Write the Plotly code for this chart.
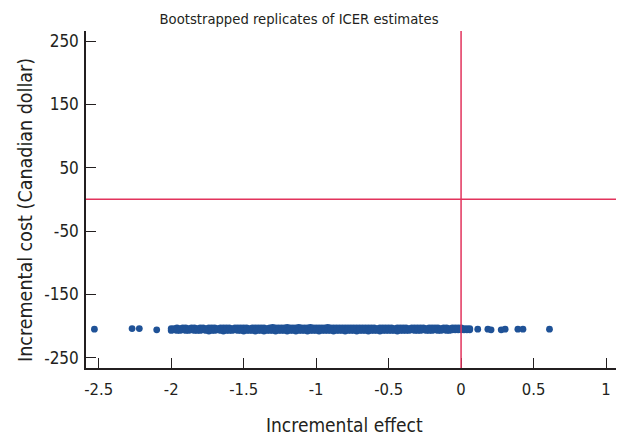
import plotly.graph_objects as go

# Bootstrapped replicates (incremental effect, incremental cost)
effect_outliers = [-2.53, -2.27, -2.22, -2.10, 0.115, 0.185, 0.207, 0.277, 0.304, 0.392, 0.427, 0.61]
cost_outliers = [-205, -204, -204, -206, -205, -205, -206, -206, -205, -205, -205, -205]

effect_band = [
    -2.00, -1.98, -1.96, -1.94, -1.92, -1.90, -1.88, -1.86, -1.84, -1.82,
    -1.80, -1.78, -1.76, -1.74, -1.72, -1.70, -1.68, -1.66, -1.64, -1.62,
    -1.60, -1.58, -1.56, -1.54, -1.52, -1.50, -1.48, -1.46, -1.44, -1.42,
    -1.40, -1.38, -1.36, -1.34, -1.32, -1.30, -1.28, -1.26, -1.24, -1.22,
    -1.20, -1.18, -1.16, -1.14, -1.12, -1.10, -1.08, -1.06, -1.04, -1.02,
    -1.00, -0.98, -0.96, -0.94, -0.92, -0.90, -0.88, -0.86, -0.84, -0.82,
    -0.80, -0.78, -0.76, -0.74, -0.72, -0.70, -0.68, -0.66, -0.64, -0.62,
    -0.60, -0.58, -0.56, -0.54, -0.52, -0.50, -0.48, -0.46, -0.44, -0.42,
    -0.40, -0.38, -0.36, -0.34, -0.32, -0.30, -0.28, -0.26, -0.24, -0.22,
    -0.20, -0.18, -0.16, -0.14, -0.12, -0.10, -0.08, -0.06, -0.04, -0.02,
    0.00, 0.02, 0.04, 0.06,
]
cost_band_upper = [
    -204, -204, -203, -204, -203, -203, -204, -203, -203, -204,
    -203, -203, -204, -203, -203, -203, -204, -203, -203, -203,
    -203, -204, -203, -203, -203, -203, -203, -204, -203, -203,
    -203, -203, -203, -204, -203, -202, -203, -203, -203, -203,
    -202, -203, -203, -203, -202, -203, -203, -203, -202, -203,
    -203, -203, -203, -203, -202, -203, -203, -203, -203, -203,
    -203, -203, -203, -203, -203, -203, -203, -203, -203, -203,
    -203, -204, -203, -203, -203, -203, -203, -204, -203, -203,
    -203, -203, -204, -203, -203, -203, -203, -203, -204, -203,
    -203, -203, -203, -204, -203, -203, -204, -203, -203, -203,
    -203, -204, -204, -204,
]
cost_band_lower = [
    -207, -206, -207, -207, -206, -207, -207, -206, -207, -207,
    -207, -206, -207, -208, -207, -207, -206, -207, -208, -207,
    -207, -207, -206, -207, -207, -208, -207, -207, -207, -208,
    -207, -207, -208, -207, -207, -207, -208, -207, -207, -207,
    -208, -207, -207, -208, -207, -207, -207, -208, -207, -207,
    -207, -208, -207, -207, -207, -207, -208, -207, -207, -207,
    -208, -207, -207, -207, -208, -207, -207, -207, -208, -207,
    -207, -207, -208, -207, -207, -207, -207, -207, -208, -207,
    -207, -207, -207, -206, -207, -207, -207, -206, -207, -207,
    -207, -206, -207, -207, -206, -207, -207, -206, -206, -206,
    -206, -206, -206, -206,
]

x_ticks = [-2.5, -2, -1.5, -1, -0.5, 0, 0.5, 1]
x_tick_labels = ["-2.5", "-2", "-1.5", "-1", "-0.5", "0", "0.5", "1"]
y_ticks = [250, 150, 50, -50, -150, -250]
y_tick_labels = ["250", "150", "50", "-50", "-150", "-250"]

title_text = "Bootstrapped replicates of ICER estimates"
x_title = "Incremental effect"
y_title = "Incremental cost (Canadian dollar)"

xs = effect_band + effect_band + effect_outliers
ys = cost_band_upper + cost_band_lower + cost_outliers

FONT = "DejaVu Sans Condensed, Roboto, sans-serif"
DOT = "#1f5297"
RED = "#e2335c"
INK = "#231f20"
W, H = 617, 437

fig = go.Figure()
fig.add_trace(go.Scatter(
    x=xs, y=ys, mode="markers",
    marker=dict(color=DOT, size=6.8, line=dict(width=0)),
    showlegend=False, hoverinfo="skip",
))

fig.add_shape(type="line", xref="x", yref="paper", x0=0, x1=0, y0=0, y1=1,
              line=dict(color=RED, width=1.5), layer="above")
fig.add_shape(type="line", xref="paper", yref="y", x0=0, x1=1, y0=0, y1=0,
              line=dict(color=RED, width=1.5), layer="above")

# axis titles placed as annotations in page coordinates
fig.add_annotation(text=x_title, xref="paper", yref="paper",
                   x=(344 - 86) / 530, y=-(425 - 368) / 337,
                   xanchor="center", yanchor="middle", showarrow=False,
                   font=dict(family=FONT, size=19, color=INK))
fig.add_annotation(text=y_title, xref="paper", yref="paper",
                   x=-(86 - 25) / 530, y=(368 - 210) / 337, textangle=-90,
                   xanchor="center", yanchor="middle", showarrow=False,
                   font=dict(family=FONT, size=19.5, color=INK))

fig.update_layout(
    width=W, height=H,
    margin=dict(l=86, r=1, t=31, b=69, autoexpand=False),
    paper_bgcolor="white", plot_bgcolor="white",
    font=dict(family=FONT, color=INK, size=16),
    title=dict(text=title_text,
               x=299 / W, xanchor="center", xref="container", y=1 - 19 / H, yanchor="middle",
               font=dict(family=FONT, size=14.7, color=INK)),
    xaxis=dict(
        range=[-2.588, 1.069], tickvals=x_ticks, ticktext=x_tick_labels,
        showgrid=False, zeroline=False, showline=True, linecolor=INK,
        linewidth=1.5, ticks="inside", ticklen=10, tickcolor=INK,
        tickwidth=1.2, tickfont=dict(size=16.5), automargin=False,
        ticklabelstandoff=5,
    ),
    yaxis=dict(
        range=[-266.3, 265.8], tickvals=y_ticks, ticktext=y_tick_labels,
        showgrid=False, zeroline=False, showline=True, linecolor=INK,
        linewidth=1.5, ticks="inside", ticklen=10, tickcolor=INK,
        tickwidth=1.2, tickfont=dict(size=17), automargin=False,
        ticklabelstandoff=2,
    ),
)

fig.write_html(
    "out.html",
    config={"responsive": False, "displayModeBar": False},
    post_script="document.body.style.margin='0';document.body.style.overflow='hidden';",
)
